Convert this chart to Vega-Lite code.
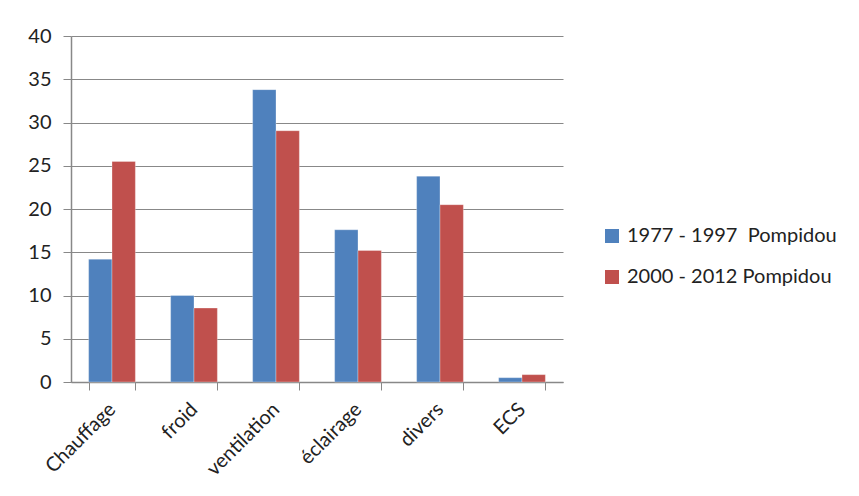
{
  "$schema": "https://vega.github.io/schema/vega-lite/v6.json",
  "width": 492,
  "height": 346,
  "autosize": "none",
  "padding": {"left": 71, "top": 36, "right": 296, "bottom": 114},
  "background": "white",
  "config": {
    "view": {"stroke": null},
    "font": "Lato"
  },
  "data": {
    "values": [
      {"cat": "Chauffage", "serie": "1977 - 1997\u00a0 Pompidou", "v": 14.2},
      {"cat": "Chauffage", "serie": "2000 - 2012 Pompidou", "v": 25.5},
      {"cat": "froid", "serie": "1977 - 1997\u00a0 Pompidou", "v": 10.0},
      {"cat": "froid", "serie": "2000 - 2012 Pompidou", "v": 8.55},
      {"cat": "ventilation", "serie": "1977 - 1997\u00a0 Pompidou", "v": 33.8},
      {"cat": "ventilation", "serie": "2000 - 2012 Pompidou", "v": 29.05},
      {"cat": "éclairage", "serie": "1977 - 1997\u00a0 Pompidou", "v": 17.6},
      {"cat": "éclairage", "serie": "2000 - 2012 Pompidou", "v": 15.2},
      {"cat": "divers", "serie": "1977 - 1997\u00a0 Pompidou", "v": 23.8},
      {"cat": "divers", "serie": "2000 - 2012 Pompidou", "v": 20.5},
      {"cat": "ECS", "serie": "1977 - 1997\u00a0 Pompidou", "v": 0.5},
      {"cat": "ECS", "serie": "2000 - 2012 Pompidou", "v": 0.85}
    ]
  },
  "mark": {"type": "bar", "stroke": "white", "strokeWidth": 0.5, "strokeOpacity": 0.6},
  "encoding": {
    "x": {
      "field": "cat",
      "type": "nominal",
      "sort": null,
      "scale": {"paddingInner": 0.43, "paddingOuter": 0.215},
      "axis": {
        "title": null,
        "labelAngle": -45,
        "labelAlign": "right",
        "labelBaseline": "middle",
        "labelFontSize": 20,
        "labelColor": "#222222",
        "labelPadding": 16,
        "tickBand": "extent",
        "tickSize": 8,
        "tickColor": "#888888",
        "domainColor": "#888888",
        "domainWidth": 1.5,
        "grid": false
      }
    },
    "xOffset": {"field": "serie", "type": "nominal", "sort": null, "scale": {"paddingInner": 0, "paddingOuter": 0}},
    "y": {
      "field": "v",
      "type": "quantitative",
      "scale": {"domain": [0, 40], "nice": false},
      "axis": {
        "title": null,
        "values": [0, 5, 10, 15, 20, 25, 30, 35, 40],
        "labelFontSize": 20,
        "labelColor": "#222222",
        "labelPadding": 12,
        "tickSize": 8,
        "tickColor": "#888888",
        "domainColor": "#888888",
        "domainWidth": 1.5,
        "gridColor": "#888888",
        "gridWidth": 1
      }
    },
    "color": {
      "field": "serie",
      "type": "nominal",
      "sort": null,
      "scale": {"range": ["#4F81BD", "#C0504D"]},
      "legend": {
        "title": null,
        "orient": "none",
        "legendX": 531,
        "legendY": 190,
        "symbolType": "square",
        "symbolSize": 196,
        "symbolStrokeWidth": 0,
        "labelFontSize": 20,
        "labelColor": "#222222",
        "labelOffset": 5,
        "rowPadding": 21,
        "labelLimit": 320
      }
    }
  }
}
